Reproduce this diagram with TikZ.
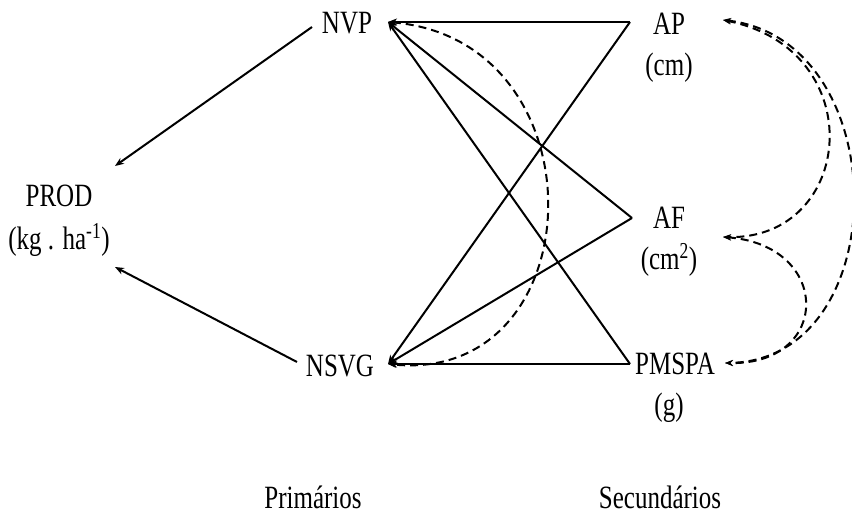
\documentclass[tikz,border=0pt]{standalone}
\usepackage{fontspec}
\setmainfont{Liberation Serif}
\usetikzlibrary{arrows.meta}
\newcommand{\tall}[1]{\scalebox{1}[1.3]{#1}}
\begin{document}
\begin{tikzpicture}[x=1pt,y=-1pt,
  lbl/.style={inner sep=0pt,font=\fontsize{25}{30}\selectfont},
  solidarr/.style={line width=2pt,-{Stealth[length=9pt,width=7pt]}},
  dasharr/.style={line width=2pt,dash pattern=on 8pt off 5pt,{Stealth[length=8pt,width=6pt]}-{Stealth[length=8pt,width=6pt]}}]
\useasboundingbox (0,0) rectangle (852,516);
% labels
\node[lbl] (nvp) at (347,23) {\tall{NVP}};
\node[lbl] (nsvg) at (340,366) {\tall{NSVG}};
\node[lbl] (prod) at (59,196) {\tall{PROD}};
\node[lbl] (produ) at (59,240) {\tall{(kg . ha\textsuperscript{-1})}};
\node[lbl] (ap) at (669,24) {\tall{AP}};
\node[lbl] (apu) at (669,68) {\tall{(cm)}};
\node[lbl] (af) at (669,218) {\tall{AF}};
\node[lbl] (afu) at (669,260) {\tall{(cm\textsuperscript{2})}};
\node[lbl] (pm) at (675,364) {\tall{PMSPA}};
\node[lbl] (pmu) at (669,408) {\tall{(g)}};
\node[lbl] (prim) at (313,497) {\tall{Primários}};
\node[lbl] (sec) at (660,497) {\tall{Secundários}};
% connector points
\coordinate (nvpT) at (388,22);
\coordinate (nsvgT) at (388,364);
\coordinate (nvpW) at (312,27);
\coordinate (nsvgW) at (297,362);
\coordinate (prodN) at (115,166);
\coordinate (prodS) at (115,267);
\coordinate (apL) at (630,22);
\coordinate (afL) at (632,218);
\coordinate (pmL) at (630,364);
\coordinate (apR) at (723,20);
\coordinate (afR) at (723,237);
\coordinate (pmR) at (725,363);
% to PROD
\draw[solidarr] (nvpW) -- (prodN);
\draw[solidarr] (nsvgW) -- (prodS);
% secondary to primary
\draw[solidarr] (apL) -- (nvpT);
\draw[solidarr] (afL) -- (nvpT);
\draw[solidarr] (pmL) -- (nvpT);
\draw[solidarr] (apL) -- (nsvgT);
\draw[solidarr] (afL) -- (nsvgT);
\draw[solidarr] (pmL) -- (nsvgT);
% dashed correlations
\draw[dasharr] (nvpT) .. controls (605,40) and (595,385) .. (nsvgT);
\draw[dasharr] (apR) .. controls (872,50) and (855,240) .. (afR);
\draw[dasharr] (apR) .. controls (896,40) and (896,360) .. (pmR);
\draw[dasharr] (afR) .. controls (832,245) and (832,365) .. (pmR);
\end{tikzpicture}
\end{document}
